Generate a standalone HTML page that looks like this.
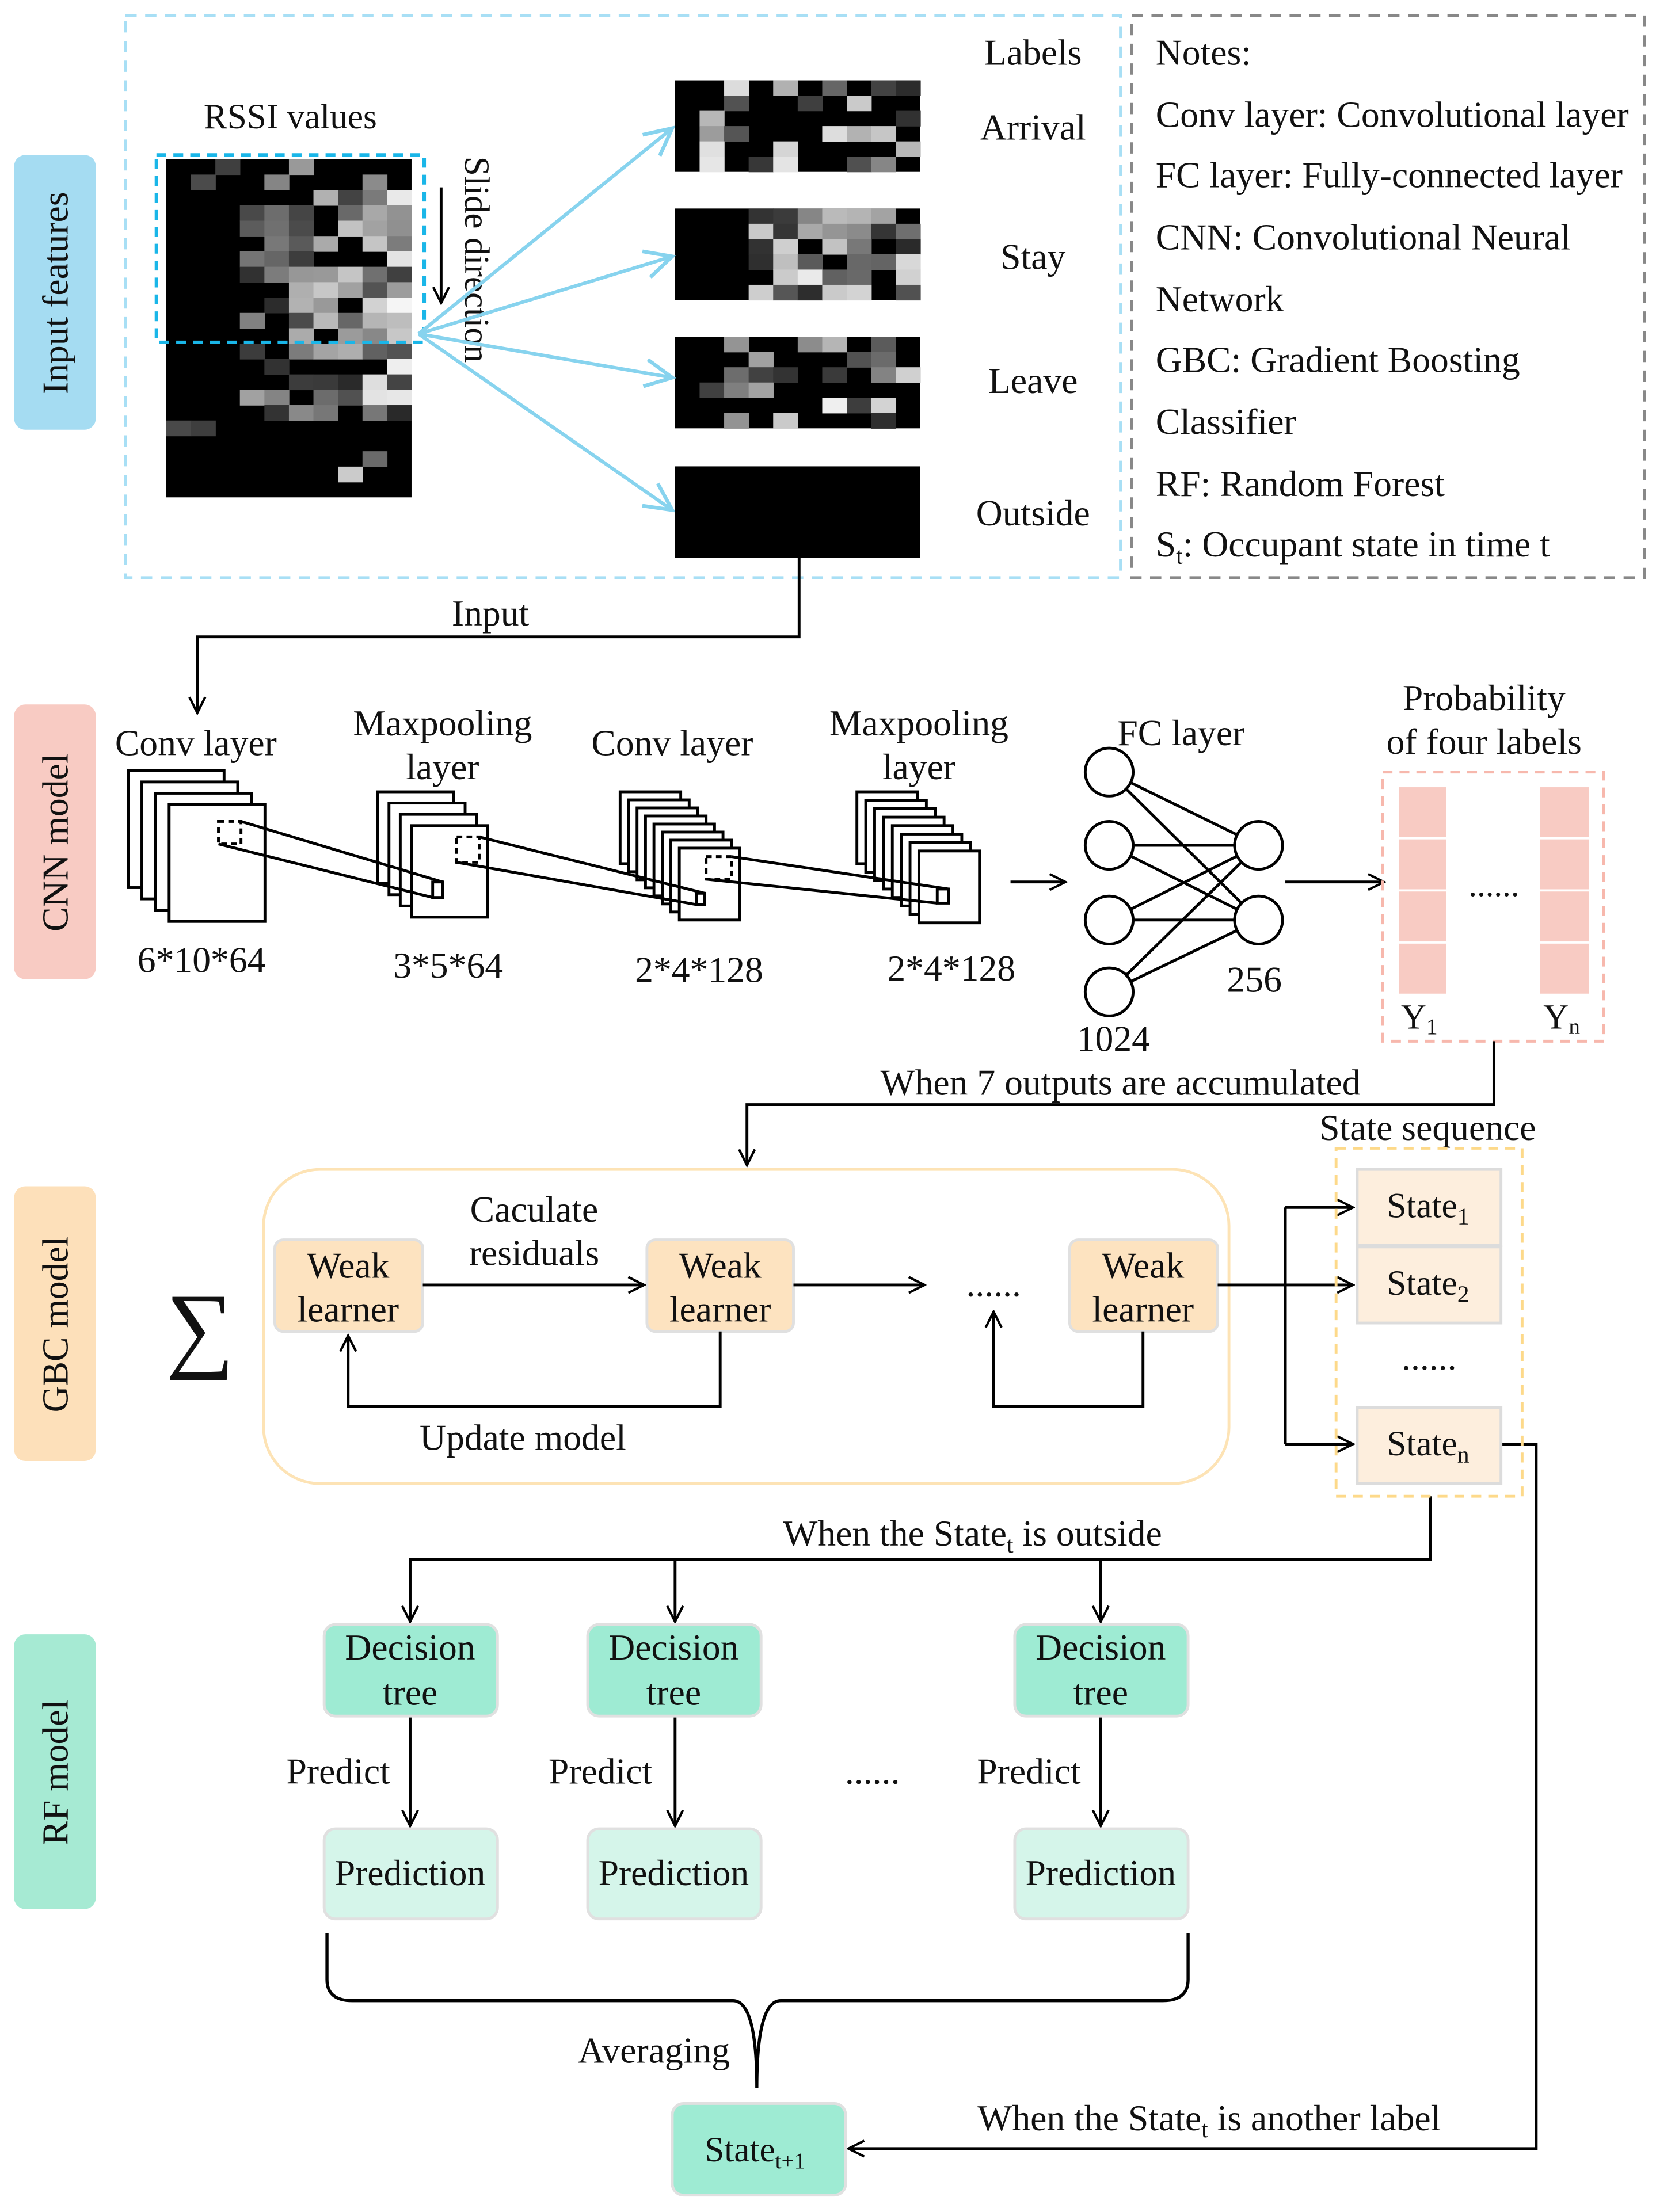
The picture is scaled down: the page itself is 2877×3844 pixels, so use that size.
<!DOCTYPE html>
<html><head><meta charset="utf-8"><style>
html,body{margin:0;padding:0;background:#fff;width:2877px;height:3844px;overflow:hidden}
svg{display:block}
text{font-family:"Liberation Serif",serif;fill:#111}
</style></head><body>
<svg id="s" width="2877" height="3844" viewBox="0 0 1175 1570" preserveAspectRatio="none" xmlns="http://www.w3.org/2000/svg">
<defs>
<marker id="a" viewBox="0 0 20 20" refX="18" refY="10" markerWidth="14" markerHeight="14" markerUnits="userSpaceOnUse" orient="auto"><path d="M2,2 L18,10 L2,18" fill="none" stroke="#000" stroke-width="2.4"/></marker>
<marker id="b" viewBox="0 0 20 20" refX="18" refY="10" markerWidth="24" markerHeight="24" markerUnits="userSpaceOnUse" orient="auto"><path d="M2,2 L18,10 L2,18" fill="none" stroke="#87d3ee" stroke-width="2.2"/></marker>
</defs>
<rect x="10" y="110" width="58" height="195" rx="8" fill="#a5dcf2"/>
<rect x="10" y="500" width="58" height="195" rx="8" fill="#f8cbc3"/>
<rect x="10" y="842" width="58" height="195" rx="8" fill="#fde0ba"/>
<rect x="10" y="1160" width="58" height="195" rx="8" fill="#a6ead3"/>
<g font-size="26">
<text transform="translate(48,208) rotate(-90)" text-anchor="middle">Input features</text>
<text transform="translate(48,598) rotate(-90)" text-anchor="middle">CNN model</text>
<text transform="translate(48,940) rotate(-90)" text-anchor="middle">GBC model</text>
<text transform="translate(48,1258) rotate(-90)" text-anchor="middle">RF model</text>
</g>
<rect x="89" y="11" width="706" height="399" fill="none" stroke="#a8dff5" stroke-width="2" stroke-dasharray="8,6"/>
<rect x="803" y="11" width="364" height="399" fill="none" stroke="#888" stroke-width="2" stroke-dasharray="8,6"/>
<g id="heat"></g>
<rect x="111" y="110" width="190" height="133" fill="none" stroke="#1ab6e8" stroke-width="2.5" stroke-dasharray="7,5"/>
<text x="206" y="91" font-size="25" text-anchor="middle">RSSI values</text>
<line x1="313" y1="133" x2="313" y2="215" stroke="#000" stroke-width="2" marker-end="url(#a)"/>
<text transform="translate(330,111) rotate(90)" font-size="25">Slide direction</text>
<g stroke="#87d3ee" stroke-width="2.5" fill="none">
<line x1="297" y1="237" x2="477" y2="91" marker-end="url(#b)"/>
<line x1="297" y1="237" x2="477" y2="182" marker-end="url(#b)"/>
<line x1="297" y1="237" x2="477" y2="268" marker-end="url(#b)"/>
<line x1="297" y1="237" x2="477" y2="362" marker-end="url(#b)"/>
</g>
<g font-size="26" text-anchor="middle">
<text x="733" y="46">Labels</text><text x="733" y="99">Arrival</text><text x="733" y="191">Stay</text><text x="733" y="279">Leave</text><text x="733" y="373">Outside</text>
</g>
<g font-size="26">
<text x="820" y="46">Notes:</text>
<text x="820" y="90">Conv layer: Convolutional layer</text>
<text x="820" y="133">FC layer: Fully-connected layer</text>
<text x="820" y="177">CNN: Convolutional Neural</text>
<text x="820" y="221">Network</text>
<text x="820" y="264">GBC: Gradient Boosting</text>
<text x="820" y="308">Classifier</text>
<text x="820" y="352">RF: Random Forest</text>
<text x="820" y="395">S<tspan font-size="17" dy="5">t</tspan><tspan dy="-5">: Occupant state in time t</tspan></text>
</g>
<polyline points="567,396 567,452 140,452 140,506" fill="none" stroke="#000" stroke-width="2" marker-end="url(#a)"/>
<text x="348" y="444" font-size="26" text-anchor="middle">Input</text>
<g font-size="26" text-anchor="middle">
<text x="139" y="536">Conv layer</text>
<text x="314" y="522">Maxpooling</text><text x="314" y="553">layer</text>
<text x="477" y="536">Conv layer</text>
<text x="652" y="522">Maxpooling</text><text x="652" y="553">layer</text>
<text x="143" y="690">6*10*64</text>
<text x="318" y="694">3*5*64</text>
<text x="496" y="697">2*4*128</text>
<text x="675" y="696">2*4*128</text>
<text x="838" y="529">FC layer</text>
<text x="790" y="746">1024</text>
<text x="890" y="704">256</text>
<text x="1053" y="504">Probability</text><text x="1053" y="535">of four labels</text>
</g>
<g id="stacks" fill="#fff" stroke="#000" stroke-width="2"></g>
<g stroke="#000" stroke-width="2" fill="none">
<rect x="155" y="583" width="16" height="16" stroke-dasharray="4,3"/>
<rect x="324" y="594" width="16" height="18" stroke-dasharray="4,3"/>
<rect x="501" y="608" width="18" height="16" stroke-dasharray="4,3"/>
<rect x="307" y="626" width="7" height="11"/>
<rect x="494" y="634" width="6" height="8"/>
<rect x="665" y="631" width="8" height="10"/>
<line x1="171" y1="583" x2="314" y2="626"/><line x1="155" y1="599" x2="307" y2="637"/>
<line x1="340" y1="594" x2="500" y2="634"/><line x1="324" y1="612" x2="494" y2="642"/>
<line x1="519" y1="608" x2="673" y2="631"/><line x1="501" y1="624" x2="665" y2="641"/>
<line x1="717" y1="626" x2="756" y2="626" marker-end="url(#a)"/>
<line x1="912" y1="626" x2="982" y2="626" marker-end="url(#a)"/>
<line x1="787" y1="548" x2="893" y2="600"/><line x1="787" y1="548" x2="893" y2="653"/>
<line x1="787" y1="600" x2="893" y2="600"/><line x1="787" y1="600" x2="893" y2="653"/>
<line x1="787" y1="653" x2="893" y2="600"/><line x1="787" y1="653" x2="893" y2="653"/>
<line x1="787" y1="704" x2="893" y2="600"/><line x1="787" y1="704" x2="893" y2="653"/>
</g>
<g fill="#fff" stroke="#000" stroke-width="2">
<circle cx="787" cy="548" r="17"/><circle cx="787" cy="600" r="17"/><circle cx="787" cy="653" r="17"/><circle cx="787" cy="704" r="17"/>
<circle cx="893" cy="600" r="17"/><circle cx="893" cy="653" r="17"/>
</g>
<rect x="981" y="548" width="157" height="191" fill="none" stroke="#f7b8ad" stroke-width="2" stroke-dasharray="7,5"/>
<g fill="#f8cbc3" stroke="#fff" stroke-width="1.5">
<rect x="992" y="558" width="35" height="37"/><rect x="992" y="595" width="35" height="37"/><rect x="992" y="632" width="35" height="37"/><rect x="992" y="669" width="35" height="37"/>
<rect x="1092" y="558" width="36" height="37"/><rect x="1092" y="595" width="36" height="37"/><rect x="1092" y="632" width="36" height="37"/><rect x="1092" y="669" width="36" height="37"/>
</g>
<text x="1060" y="636" font-size="24" text-anchor="middle">......</text>
<text x="994" y="730" font-size="25">Y<tspan font-size="16" dy="4">1</tspan></text>
<text x="1095" y="730" font-size="25">Y<tspan font-size="16" dy="4">n</tspan></text>
<polyline points="1060,739 1060,784 530,784 530,827" fill="none" stroke="#000" stroke-width="2" marker-end="url(#a)"/>
<text x="795" y="777" font-size="26" text-anchor="middle">When 7 outputs are accumulated</text>
<rect x="187" y="830" width="685" height="223" rx="40" fill="none" stroke="#fde3b5" stroke-width="2"/>
<text x="142" y="965" font-size="68" text-anchor="middle">∑</text>
<g fill="#fde3c0" stroke="#e0e0e0" stroke-width="2">
<rect x="195" y="880" width="105" height="65" rx="6"/><rect x="459" y="880" width="104" height="65" rx="6"/><rect x="759" y="880" width="105" height="65" rx="6"/>
</g>
<g font-size="26" text-anchor="middle">
<text x="247" y="907">Weak</text><text x="247" y="938">learner</text>
<text x="511" y="907">Weak</text><text x="511" y="938">learner</text>
<text x="811" y="907">Weak</text><text x="811" y="938">learner</text>
<text x="379" y="867">Caculate</text><text x="379" y="898">residuals</text>
<text x="371" y="1029">Update model</text>
<text x="705" y="920">......</text>
<text x="1013" y="809">State sequence</text>
<text x="1014" y="972">......</text>
</g>
<g stroke="#000" stroke-width="2" fill="none">
<line x1="300" y1="912" x2="457" y2="912" marker-end="url(#a)"/>
<line x1="563" y1="912" x2="656" y2="912" marker-end="url(#a)"/>
<polyline points="511,945 511,998 247,998 247,948" marker-end="url(#a)"/>
<polyline points="811,945 811,998 705,998 705,931" marker-end="url(#a)"/>
<line x1="864" y1="912" x2="912" y2="912"/>
<line x1="912" y1="857" x2="912" y2="1025"/>
<line x1="912" y1="857" x2="960" y2="857" marker-end="url(#a)"/>
<line x1="912" y1="912" x2="960" y2="912" marker-end="url(#a)"/>
<line x1="912" y1="1025" x2="960" y2="1025" marker-end="url(#a)"/>
<polyline points="1015,1062 1015,1107 291,1107 291,1151" marker-end="url(#a)"/>
<line x1="479" y1="1107" x2="479" y2="1151" marker-end="url(#a)"/>
<line x1="781" y1="1107" x2="781" y2="1151" marker-end="url(#a)"/>
<polyline points="1065,1025 1090,1025 1090,1525 602,1525" marker-end="url(#a)"/>
<line x1="291" y1="1218" x2="291" y2="1296" marker-end="url(#a)"/>
<line x1="479" y1="1218" x2="479" y2="1296" marker-end="url(#a)"/>
<line x1="781" y1="1218" x2="781" y2="1296" marker-end="url(#a)"/>
<path d="M232,1372 L232,1405 Q232,1420 250,1420 L520,1420 Q537,1420 537,1482 Q537,1420 554,1420 L825,1420 Q843,1420 843,1405 L843,1372" stroke-width="2.2"/>
</g>
<rect x="948" y="815" width="132" height="247" fill="none" stroke="#fdd98a" stroke-width="2" stroke-dasharray="7,5"/>
<g fill="#fdeedd" stroke="#dcdcdc" stroke-width="2">
<rect x="963" y="830" width="102" height="54"/><rect x="963" y="885" width="102" height="54"/><rect x="963" y="999" width="102" height="54"/>
</g>
<g font-size="25">
<text x="984" y="864">State<tspan font-size="17" dy="5">1</tspan></text>
<text x="984" y="919">State<tspan font-size="17" dy="5">2</tspan></text>
<text x="984" y="1033">State<tspan font-size="17" dy="5">n</tspan></text>
</g>
<text x="690" y="1097" font-size="26" text-anchor="middle">When the State<tspan font-size="17" dy="5">t</tspan><tspan dy="-5"> is outside</tspan></text>
<g fill="#9eebd3" stroke="#e0e0e0" stroke-width="2">
<rect x="230" y="1153" width="123" height="65" rx="8"/><rect x="417" y="1153" width="123" height="65" rx="8"/><rect x="720" y="1153" width="123" height="65" rx="8"/>
<rect x="477" y="1493" width="123" height="65" rx="8"/>
</g>
<g fill="#d5f5ea" stroke="#e0e0e0" stroke-width="2">
<rect x="230" y="1298" width="123" height="64" rx="8"/><rect x="417" y="1298" width="123" height="64" rx="8"/><rect x="720" y="1298" width="123" height="64" rx="8"/>
</g>
<g font-size="26" text-anchor="middle">
<text x="291" y="1178">Decision</text><text x="291" y="1210">tree</text>
<text x="478" y="1178">Decision</text><text x="478" y="1210">tree</text>
<text x="781" y="1178">Decision</text><text x="781" y="1210">tree</text>
<text x="291" y="1338">Prediction</text><text x="478" y="1338">Prediction</text><text x="781" y="1338">Prediction</text>
<text x="240" y="1266">Predict</text><text x="426" y="1266">Predict</text><text x="730" y="1266">Predict</text>
<text x="619" y="1266">......</text>
<text x="464" y="1464">Averaging</text>
<text x="858" y="1512">When the State<tspan font-size="17" dy="5">t</tspan><tspan dy="-5"> is another label</tspan></text>
</g>
<text x="500" y="1534" font-size="25">State<tspan font-size="16" dy="5">t+1</tspan></text>
</svg>
<script>
(function(){
var NS="http://www.w3.org/2000/svg",h=document.getElementById("heat"),st=document.getElementById("stacks");
var seed=7;function r(){seed=(seed*16807)%2147483647;return seed/2147483647;}
function R(p,x,y,w,hh,f){var e=document.createElementNS(NS,"rect");e.setAttribute("x",x);e.setAttribute("y",y);e.setAttribute("width",w);e.setAttribute("height",hh);e.setAttribute("fill",f);p.appendChild(e);}
function g(v){v=Math.round(v);return "rgb("+v+","+v+","+v+")";}
R(h,118,113,174,240,"#000");
var cw=17.4,ch=240/22;
for(var i=0;i<22;i++)for(var j=0;j<10;j++){
 var p=0;
 if(i<3)p=j>=1?0.35:0;
 else if(i<17)p=j<3?0:(0.3+j*0.07);
 else p=0.2;
 if(r()<p){R(h,118+j*cw,113+i*ch,cw+0.3,ch+0.3,g(40+r()*200*(0.4+j*0.07)));}
}
var ys=[57,148,239];
for(var k=0;k<3;k++){R(h,479,ys[k],174,65,"#000");
 for(var i=0;i<6;i++)for(var j=0;j<10;j++){var p=k==1?(j<3?0:0.85):(j<1?0:0.45);
  if(r()<p)R(h,479+j*17.4,ys[k]+i*10.83,17.7,11.1,g(40+r()*200));}}
R(h,479,331,174,65,"#000");
function S(n,x0,y0,x1,y1,w,hh){for(var k=0;k<n;k++){var t=n==1?0:k/(n-1);R(st,x0+(x1-x0)*t,y0+(y1-y0)*t,w,hh,"#fff");}}
S(4,91,547,120,571,68,83);
S(4,268,562,292,586,54,65);
S(8,440,562,482,602,43,51);
S(8,608,562,652,604,43,51);
})();
</script>
</body></html>
